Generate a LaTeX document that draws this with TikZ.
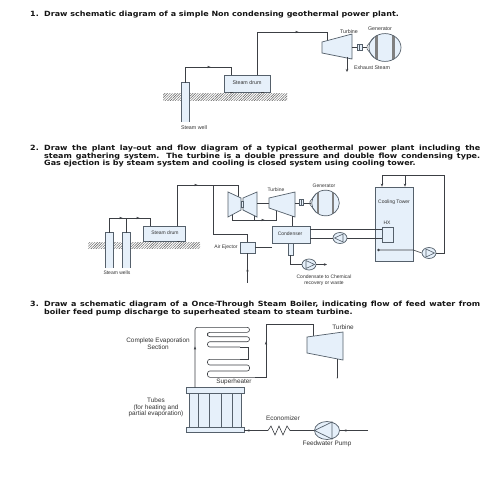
\documentclass[tikz,border=0pt]{standalone}
\usepackage{fontspec}
\setmainfont{Liberation Sans}
\newfontfamily\headfont{DejaVu Sans Bold}[FakeStretch=1.12]
\usetikzlibrary{arrows.meta,patterns.meta,shapes.geometric}
\definecolor{pipe}{HTML}{3C3F44}
\definecolor{unitfill}{HTML}{E6F0FA}
\definecolor{unitline}{HTML}{55606B}
\tikzset{
  pipeline/.style={draw=pipe,line width=.6pt},
  unit/.style={draw=unitline,fill=unitfill,line width=.7pt,inner sep=0pt},
  wellbody/.style={fill=unitfill,inner sep=0pt},
  hatchband/.style={pattern={Lines[angle=45,distance=1.8pt,line width=.45pt]},pattern color=black!65},
  headline/.style={anchor=base west,inner sep=0pt,font=\headfont\fontsize{7.15}{7.5}\selectfont,text=black!92},
  lblA/.style={inner sep=0pt,font=\fontsize{5.3}{6}\selectfont,text=black!80,align=center},
  lblB/.style={inner sep=0pt,font=\fontsize{5}{5.6}\selectfont,text=black!80,align=center},
  lblC/.style={inner sep=0pt,font=\fontsize{6.4}{6.6}\selectfont,text=black!80,align=center},
  flowtip/.pic={\fill[pipe] (1.6,0)--(-1.4,1.2)--(-1.4,-1.2)--cycle;},
  pumpsmall/.style={ellipse,unit,minimum width=14pt,minimum height=11pt},
  pumpbig/.style={ellipse,unit,minimum width=25pt,minimum height=18pt},
  generator/.pic={
    \begin{scope}
      \clip (0,0) circle (#1);
      \fill[unitfill] (-#1,-#1) rectangle (#1,#1);
      \fill[black!50] (-.62*#1,-#1) rectangle (-.45*#1,#1);
      \fill[black!50] (.45*#1,-#1) rectangle (.62*#1,#1);
    \end{scope}
    \draw[unitline,line width=.7pt] (0,0) circle (#1);
    \draw[unitline,line width=.6pt] (-.7*#1,-.7*#1)--(-1.12*#1,-.12*#1)--(-1.12*#1,.12*#1)--(-.7*#1,.7*#1);
  },
  coupler/.pic={\draw[unit] (-2.5,-3.3) rectangle (2.5,3.3); \draw[unitline,line width=.5pt] (0,-3.3)--(0,3.3);},
  supportmark/.pic={\fill[pipe] (-1.5,-.5) rectangle (1.5,.5);},
}
\newcommand{\pumptri}[4]{% center, half-width, half-height, direction
  \draw[unitline,line width=.6pt] ([shift={(#4*#2,0)}]#1.center) -- ([shift={(-#4*#2*.55,-#3)}]#1.center) -- ([shift={(-#4*#2*.55,#3)}]#1.center) -- cycle;}
\newcommand{\wellwalls}[1]{\draw[unitline,line width=.7pt] (#1.south west) |- (#1.north east) -- (#1.south east);}
\begin{document}
\begin{tikzpicture}[x=1pt,y=-1pt]
\useasboundingbox (0,0) rectangle (495,495);
\fill[white] (0,0) rectangle (495,495);

% ---------- headings
\node[headline] (n1) at (30,17) {1.};
\node[headline] (h1) at (44,17) {Draw schematic diagram of a simple Non condensing geothermal power plant.};
\node[headline] (n2) at (30,150) {2.};
\node[headline] (h2a) at (44,150) {\makebox[436pt][s]{Draw the plant lay-out and flow diagram of a typical geothermal power plant including the}};
\node[headline] (h2b) at (44,158) {\makebox[436pt][s]{steam gathering system. The turbine is a double pressure and double flow condensing type.}};
\node[headline] (h2c) at (44,165.5) {Gas ejection is by steam system and cooling is closed system using cooling tower.};
\node[headline] (n3) at (30,306) {3.};
\node[headline] (h3a) at (44,306) {\makebox[436pt][s]{Draw a schematic diagram of a Once-Through Steam Boiler, indicating flow of feed water from}};
\node[headline] (h3b) at (44,314.6) {boiler feed pump discharge to superheated steam to steam turbine.};

% ---------- diagram 1
\fill[hatchband] (163,93) rectangle (287,100);
\node[unit,minimum width=46pt,minimum height=17pt] (drumA) at (247,83.5) {};
\pic at (231,92.5) {supportmark};
\pic at (262,92.5) {supportmark};
\node[lblA] at (247,82.5) {Steam drum};
\node[wellbody,minimum width=7pt,minimum height=39pt] (wellA) at (185.5,102.5) {};
\wellwalls{wellA}
\coordinate (drumAin) at (231,75);
\coordinate (drumAout) at (257,75);
\coordinate (turbAin) at (327,41);
\coordinate (exhA) at (347,72);
\coordinate (exhAs) at (347,57);
\draw[pipeline] (wellA.north) |- (drumAin |- 0,67) -- (drumAin);
\draw[pipeline] (drumAout) |- (turbAin |- 0,32) -- (turbAin);
\draw[unit] (322,42) -- (352,34) -- (352,59) -- (322,53) -- cycle;
\draw[pipeline,-{Stealth[length=3pt,width=2.5pt]}] (exhAs) -- (exhA);
\coordinate (shaftA) at (352,47.5);
\coordinate (genAin) at (367,47.5);
\draw[pipeline] (shaftA) -- (genAin);
\pic at (359.5,47.5) {coupler};
\pic[yscale=.87] at (385,47.5) {generator=16};
\pic at (209,67) {flowtip};
\pic at (297,32) {flowtip};
\node[lblA] at (349,31.5) {Turbine};
\node[lblA] at (380,29) {Generator};
\node[lblA] at (372,68) {Exhaust Steam};
\node[lblA] at (194,128) {Steam well};

% ---------- diagram 2
\fill[hatchband] (88,242) rectangle (200,248);
\node[wellbody,minimum width=7pt,minimum height=35pt] (wellB) at (109.5,250.5) {};
\node[wellbody,minimum width=7pt,minimum height=35pt] (wellC) at (126.5,250.5) {};
\wellwalls{wellB}
\wellwalls{wellC}
\node[unit,minimum width=42pt,minimum height=15pt] (drumB) at (164,233.5) {};
\pic at (150,241.5) {supportmark};
\pic at (178,241.5) {supportmark};
\node[lblB] at (165,232.5) {Steam drum};
\coordinate (headB) at (126.5,218);
\coordinate (drumBin) at (150,226);
\coordinate (drumBout) at (177,226);
\draw[pipeline] (wellB.north) |- (drumBin |- 0,218) -- (drumBin);
\draw[pipeline] (wellC.north) -- (headB);
\node[unit,minimum width=15pt,minimum height=11pt] (ejector) at (247.5,247.5) {};
\node[unit,minimum width=38pt,minimum height=17pt] (condenser) at (291,234.5) {};
\node[lblB] at (290,234) {Condenser};
% steam main
\coordinate (mainTop) at (238,185);
\coordinate (tee) at (213,185);
\draw[pipeline] (drumBout) |- (mainTop) -- (238,197);
\draw[pipeline] (tee) |- (247.5,234) -- (ejector.north);
\draw[pipeline] (ejector.east) -- (ejector.east -| condenser.west);
\coordinate (ejBot) at (247.5,283);
\draw[pipeline] (ejector.south) -- (ejBot);
% turbines
\draw[pipeline] (232,213) |- (276,220) -- (276,209);
\draw[pipeline] (254,213) -- (254,220);
\draw[unit] (228,192) -- (241,198) -- (241,210) -- (228,217) -- cycle;
\draw[unit] (257,192) -- (243,198) -- (243,210) -- (257,217) -- cycle;
\draw[unit] (241,201) rectangle (243,207);
\draw[pipeline] (257,203) -- (270,203);
\draw[unit] (269,198) -- (295,192) -- (295,217) -- (269,208) -- cycle;
\draw[pipeline] (292,216) -- (292,226);
\draw[pipeline] (295,203) -- (311,203);
\pic[yscale=.9,xscale=.9] at (301.5,202) {coupler};
\pic[yscale=.93] at (325.5,203) {generator=13.8};
% condenser outlet
\node[unit,minimum width=5pt,minimum height=12pt] (hotwell) at (290.5,249) {};
\node[pumpsmall] (pumpC) at (309,264.5) {};
\pumptri{pumpC}{5.5}{4}{1}
\draw[pipeline] (hotwell.south) |- (pumpC.west);
\coordinate (wasteEnd) at (327,264.5);
\draw[pipeline,-{Stealth[length=3pt,width=2.5pt]}] (pumpC.east) -- (wasteEnd);
% cooling tower
\node[unit,minimum width=38pt,minimum height=74pt] (tower) at (394,224) {};
\node[draw=unitline,fill=unitfill,line width=.6pt,inner sep=0,minimum width=11pt,minimum height=15pt] (hx) at (387.5,234.5) {};
\node[lblB] at (387,223) {HX};
\node[lblB] at (394,202) {Cooling Tower};
\draw[pipeline] (condenser.east |- 0,229) -- (hx.west |- 0,229);
\node[pumpsmall] (pumpB) at (340,238) {};
\pumptri{pumpB}{5.5}{4}{-1}
\draw[pipeline] (condenser.east |- pumpB) -- (pumpB.west);
\draw[pipeline] (pumpB.east) -- (hx.west |- pumpB);
\coordinate (basin) at (378.5,250);
\fill[pipe] (basin) circle (1.4);
\node[pumpsmall] (pumpT) at (429,253) {};
\pumptri{pumpT}{5.5}{4}{1}
\draw[pipeline] (basin) -- (tower.east |- basin) -- (pumpT.west);
\coordinate (retR) at (444,175);
\coordinate (retA) at (382,175);
\coordinate (retB) at (405,175);
\draw[pipeline] (pumpT.east) -| (retR) -- (retA);
\draw[pipeline,-{Stealth[length=3pt,width=2.5pt]}] (retA) -- (retA |- tower.north);
\draw[pipeline,-{Stealth[length=3pt,width=2.5pt]}] (retB) -- (retB |- tower.north);
\pic at (121,218) {flowtip};
\pic at (138,218) {flowtip};
\pic at (196,185) {flowtip};
\pic at (263,220) {flowtip};
\pic[rotate=90] at (247.5,270) {flowtip};
\node[lblB] at (276,190) {Turbine};
\node[lblB] at (324,186) {Generator};
\node[lblB] at (226,247) {Air Ejector};
\node[lblB] at (117,273) {Steam wells};
\node[lblB] at (324,280.5) {Condensate to Chemical\\recovery or waste};

% ---------- diagram 3
\node[unit,minimum width=52pt,minimum height=35pt] (tubes) at (215,410) {};
\foreach \tx/\wd in {198/.9,209/.5,221/.5,232/.9}{\draw[unitline,line width=\wd pt] (\tx,392) -- (\tx,428);}
\node[unit,minimum width=58pt,minimum height=5.5pt] (headTop) at (215,390.3) {};
\node[unit,minimum width=58pt,minimum height=5.5pt] (headBot) at (215,430) {};
\coordinate (coilA) at (195,327.3);
\coordinate (riser) at (266,377.3);
\coordinate (turbCin) at (313,337);
\draw[pipeline,rounded corners=2.4pt]
  (195,387.5) -- (coilA) -- (249.5,327.3) -- (249.5,332.3) -- (207.5,332.3) -- (207.5,336.7)
  -- (249.5,336.7) -- (249.5,341.7) -- (207.5,341.7) -- (207.5,347) -- (240,347);
\draw[pipeline] (240,347) -- (248.5,347) -- (248.5,359.3) -- (240,359.3);
\draw[pipeline,rounded corners=2.4pt]
  (240,359.3) -- (207.5,359.3) -- (207.5,365)
  -- (249.5,365) -- (249.5,371) -- (207.5,371) -- (207.5,377.3) -- (255,377.3);
\draw[pipeline] (255,377.3) -- (riser) -- (266,324) -- (313,324) -- (turbCin);
\draw[unit] (307,337) -- (343,332) -- (343,360) -- (307,353) -- cycle;
\coordinate (exC) at (337,378);
\draw[pipeline] (337,359) -- (exC);
\fill[pipe] (exC) circle (.5);
\node[pumpbig] (pumpF) at (327,430.5) {};
\draw[unitline,line width=.7pt] (332,422) -- (332,439) -- (314.5,430.5) -- cycle;
\coordinate (feedIn) at (368,430.5);
\coordinate (ecoR) at (292,430.5);
\coordinate (ecoL) at (268,430.5);
\draw[pipeline] (feedIn) -- (pumpF.east);
\draw[pipeline] (pumpF.west) -- (ecoR);
\draw[pipeline] (ecoL) -- (headBot.east |- ecoL);
\draw[pipeline] (ecoL) -- ++(3,-4.5) -- ++(4,9) -- ++(4,-9) -- ++(4,9) -- ++(4,-9) -- ++(3,4.5) -- (ecoR);
\pic[rotate=90] at (195,348) {flowtip};
\pic[rotate=90] at (266,343) {flowtip};
\pic[rotate=180] at (248,430.5) {flowtip};
\pic[rotate=180] at (345,430.5) {flowtip};
\node[lblC] at (343,327) {Turbine};
\node[lblC] at (234,382) {Superheater};
\node[lblC] at (158,344) {Complete Evaporation\\Section};
\node[lblC] at (156,407.5) {Tubes\\(for heating and\\partial evaporation)};
\node[lblC] at (283,418) {Economizer};
\node[lblC] at (327,444) {Feedwater Pump};
\end{tikzpicture}
\end{document}
